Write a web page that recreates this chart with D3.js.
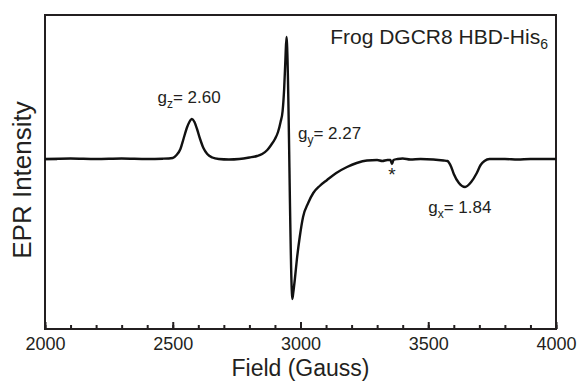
<!DOCTYPE html>
<html>

<head>
	<meta charset='utf-8'>
	<title>EPR</title>
	<script type='text/javascript' src='https://cdn.jsdelivr.net/npm/d3@7'></script>
	<style>
		body { margin: 0; background: #fff; }
		text { font-family: 'Liberation Sans', Arial, sans-serif; fill: #231f20; }
	</style>
</head>

<body>
	<svg width='581' height='381'></svg>
	<script>
		// spectrum: field (G) and intensity (arb. units, baseline 0)
		const field = [2000, 2100, 2200, 2300, 2400, 2460, 2500, 2515, 2530, 2542, 2555, 2565, 2575, 2585, 2595, 2607, 2620, 2635, 2655, 2680,
			2720, 2760, 2800, 2830, 2850, 2870, 2885, 2900, 2912, 2922, 2930, 2936, 2941, 2945, 2947, 2966, 2968, 2972, 2978, 2986,
			2997, 3010, 3030, 3050, 3075, 3104, 3140, 3182, 3220, 3260, 3300, 3320, 3340, 3352, 3358, 3364, 3380, 3400, 3430, 3470,
			3520, 3560, 3575, 3590, 3600, 3620, 3644, 3668, 3690, 3705, 3720, 3740, 3800, 3850, 3900, 4000]
		const intensity = [0, 0.5, 0, 0.5, 0, 0.3, 1, 4, 10, 20, 31, 37, 40, 37, 30, 20, 11, 5, 1.5, 0,
			-0.5, 0, 1.5, 3, 5, 9, 14, 20, 27, 37, 48, 70, 100, 122, 116, -132, -140, -133, -120, -100,
			-78, -58, -44, -34, -27, -21, -14, -8, -4, -1.5, -1, -2, -1, -1, -5, -1, 0, 0.5, -0.5, 0,
			-0.5, -1.5, -2, -8, -15, -24, -28, -23, -14, -6, -2, 0, 0, -0.5, 0, 0]
		const xTicks = [2000, 2500, 3000, 3500, 4000]
		const labels = [
			{ base: 'g', sub: 'z', rest: '= 2.60', f: 2440, i: 56 },
			{ base: 'g', sub: 'y', rest: '= 2.27', f: 2990, i: 20 },
			{ base: 'g', sub: 'x', rest: '= 1.84', f: 3500, i: -54 }
		]

		const margin = ({ top: 15, right: 25, bottom: 52, left: 45 })
		const svg = d3.select('svg')
		const width = +svg.attr('width')
		const height = +svg.attr('height')

		const data = field.map((f, k) => ({ x: f, y: intensity[k] }))

		const x = d3.scaleLinear()
			.domain([2000, 4000])
			.range([margin.left, width - margin.right])

		const y = d3.scaleLinear()
			.domain([-170, 144])
			.range([height - margin.bottom, margin.top])

		// minor ticks
		svg.append('g')
			.attr('transform', `translate(0,${height - margin.bottom})`)
			.call(d3.axisBottom(x).tickValues(d3.range(2000, 4001, 100)).tickSize(-4).tickFormat(''))
			.call(g => g.select('.domain').remove())
			.call(g => g.selectAll('line').attr('stroke', '#231f20').attr('stroke-width', 2))

		// major ticks + labels
		svg.append('g')
			.attr('transform', `translate(0,${height - margin.bottom})`)
			.call(d3.axisBottom(x).tickValues(xTicks).tickSize(-7).tickPadding(8).tickFormat(d3.format('d')))
			.call(g => g.select('.domain').remove())
			.call(g => g.selectAll('line').attr('stroke', '#231f20').attr('stroke-width', 2))
			.call(g => g.selectAll('text').attr('font-size', 18).attr('font-family', null))

		// single tick at the baseline on the left
		svg.append('g')
			.attr('transform', `translate(${margin.left},0)`)
			.call(d3.axisLeft(y).tickValues([0]).tickSize(-12).tickFormat(''))
			.call(g => g.select('.domain').remove())
			.call(g => g.selectAll('line').attr('stroke', '#231f20').attr('stroke-width', 1.5))

		// frame
		svg.append('rect')
			.attr('x', margin.left)
			.attr('y', margin.top)
			.attr('width', width - margin.left - margin.right)
			.attr('height', height - margin.top - margin.bottom)
			.attr('fill', 'none')
			.attr('stroke', '#231f20')
			.attr('stroke-width', 2)

		const line = d3.line()
			.x(d => x(d.x))
			.y(d => y(d.y))
			.curve(d3.curveMonotoneX)

		svg.append('path')
			.datum(data)
			.attr('d', line)
			.attr('fill', 'none')
			.attr('stroke', '#111')
			.attr('stroke-width', 2.4)
			.attr('stroke-linejoin', 'round')

		// g-value labels
		labels.forEach(l => {
			const t = svg.append('text')
				.attr('x', x(l.f))
				.attr('y', y(l.i))
				.attr('font-size', 17)
			t.append('tspan').text(l.base)
			t.append('tspan').attr('font-size', 12).attr('dy', 5).text(l.sub)
			t.append('tspan').attr('dy', -5).text(l.rest)
		})

		// impurity marker
		svg.append('text')
			.attr('x', x(3358))
			.attr('y', y(-22))
			.attr('text-anchor', 'middle')
			.attr('font-size', 19)
			.text('*')

		// sample name
		const title = svg.append('text')
			.attr('x', width - margin.right - 8)
			.attr('y', 44)
			.attr('text-anchor', 'end')
			.attr('font-size', 21)
		title.append('tspan').text('Frog DGCR8 HBD-His')
		title.append('tspan').attr('font-size', 14).attr('dy', 5).text('6')

		svg.append('text')
			.attr('x', (margin.left + width - margin.right) / 2)
			.attr('y', height - 5)
			.attr('text-anchor', 'middle')
			.attr('font-size', 23)
			.text('Field (Gauss)')

		svg.append('text')
			.attr('transform', `translate(31,${(margin.top + height - margin.bottom) / 2 + 8}) rotate(-90)`)
			.attr('text-anchor', 'middle')
			.attr('font-size', 26)
			.text('EPR Intensity')
	</script>
</body>

</html>
